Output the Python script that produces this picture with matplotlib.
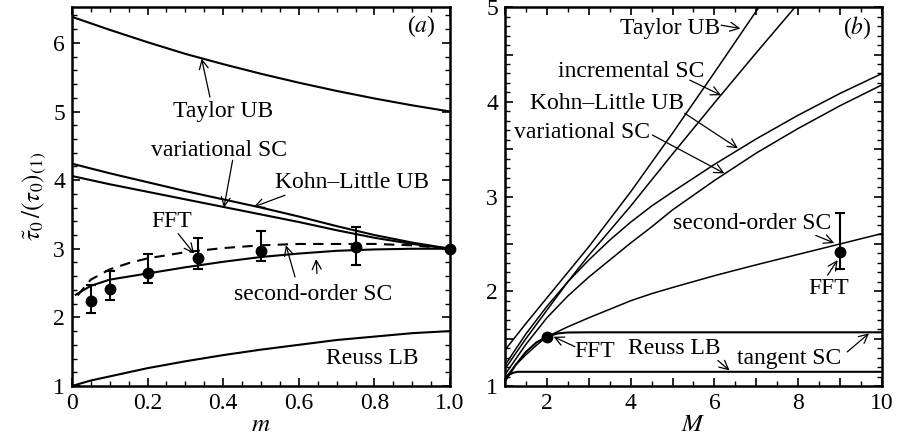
import numpy as np
import matplotlib.pyplot as plt
from matplotlib.ticker import MultipleLocator, FuncFormatter

plt.rcParams['font.family'] = ['Liberation Serif', 'DejaVu Serif']
plt.rcParams['mathtext.fontset'] = 'stix'
plt.rcParams['font.size'] = 16

# ---- panel (a): curves versus m ----
m_taylor = [0, 0.1, 0.2, 0.3, 0.4, 0.5, 0.6, 0.7, 0.8, 0.9, 1.0]
taylor_a = [6.38, 6.19, 6.01, 5.84, 5.69, 5.55, 5.42, 5.30, 5.19, 5.09, 5.0]

m_bounds = [0, 0.1, 0.2, 0.3, 0.4, 0.5, 0.6, 0.7, 0.8, 0.9, 1.0]
kohn_a = [4.24, 4.10, 3.97, 3.84, 3.72, 3.60, 3.47, 3.33, 3.20, 3.09, 3.0]
varsc_a = [4.06, 3.94, 3.83, 3.72, 3.61, 3.50, 3.39, 3.27, 3.16, 3.07, 3.0]

m_so = [0.01, 0.05, 0.1, 0.2, 0.3, 0.4, 0.5, 0.6, 0.7, 0.8, 0.9, 1.0]
so_solid = [2.33, 2.46, 2.55, 2.64, 2.73, 2.81, 2.88, 2.93, 2.97, 2.99, 3.0, 3.0]
m_dash = [0.015, 0.05, 0.1, 0.15, 0.2, 0.3, 0.4, 0.5, 0.6, 0.7, 0.8, 0.9, 1.0]
so_dash = [2.32, 2.55, 2.70, 2.79, 2.86, 2.95, 3.01, 3.05, 3.07, 3.07, 3.07, 3.05, 3.0]

m_reuss = [0, 0.05, 0.1, 0.2, 0.3, 0.4, 0.5, 0.6, 0.7, 0.8, 0.9, 1.0]
reuss_a = [1.0, 1.08, 1.14, 1.26, 1.36, 1.45, 1.53, 1.60, 1.67, 1.72, 1.77, 1.80]

m_fft = [0.05, 0.1, 0.2, 0.333, 0.5, 0.75, 1.0]
fft_a = [2.24, 2.41, 2.64, 2.86, 2.97, 3.03, 3.0]
fft_a_lo = [2.06, 2.25, 2.50, 2.71, 2.82, 2.77, 3.0]
fft_a_hi = [2.47, 2.68, 2.93, 3.15, 3.26, 3.32, 3.0]

# ---- panel (b): curves versus M ----
M_taylor = [1, 1.5, 2, 2.5, 3, 4, 5, 6, 7, 7.1]
taylor_b = [1.38, 1.66, 1.93, 2.20, 2.47, 3.05, 3.67, 4.31, 4.96, 5.02]
M_incr = [1, 1.5, 2, 2.5, 3, 4, 5, 6, 7, 8]
incr_b = [1.18, 1.50, 1.80, 2.10, 2.38, 2.90, 3.45, 3.99, 4.52, 5.04]
M_b = [1, 1.5, 2, 2.5, 3, 3.5, 4, 4.5, 5, 6, 7, 8, 9, 10]
kohn_b = [1.22, 1.55, 1.84, 2.10, 2.33, 2.54, 2.73, 2.90, 3.05, 3.34, 3.61, 3.86, 4.09, 4.30]
varsc_b = [1.12, 1.44, 1.72, 1.95, 2.15, 2.33, 2.51, 2.68, 2.86, 3.17, 3.46, 3.72, 3.96, 4.18]
M_so = [1, 1.25, 1.5, 1.75, 2, 2.5, 3, 3.5, 4, 4.5, 5, 6, 7, 8, 9, 10]
so_b = [1.08, 1.22, 1.33, 1.43, 1.52, 1.625, 1.72, 1.81, 1.90, 1.975, 2.04, 2.165,
        2.28, 2.39, 2.50, 2.61]
M_tan = [1, 1.25, 1.5, 1.75, 2, 2.25, 2.5, 3, 10]
tangent_b = [1.05, 1.22, 1.36, 1.46, 1.52, 1.555, 1.565, 1.567, 1.567]
M_reuss = [1, 1.1, 1.2, 1.3, 10]
reuss_b = [1.08, 1.12, 1.14, 1.15, 1.15]
M_fft = [2, 9]
fft_b = [1.52, 2.41]
fft_b_lo = [1.52, 2.24]
fft_b_hi = [1.52, 2.83]

fig = plt.figure(figsize=(8.99, 4.42), dpi=100)
ax1 = fig.add_axes([0.080, 0.1267, 0.4206, 0.857])
ax2 = fig.add_axes([0.5617, 0.1267, 0.4194, 0.857])

arrow = dict(arrowstyle='->', lw=0.9, color='k', shrinkA=0, shrinkB=0)

# panel (a)
ax1.plot(m_taylor, taylor_a, 'k-', lw=1.5)
ax1.plot(m_bounds, kohn_a, 'k-', lw=1.5)
ax1.plot(m_bounds, varsc_a, 'k-', lw=1.5)
ax1.plot(m_so, so_solid, 'k-', lw=1.5)
ax1.plot(m_dash, so_dash, 'k', lw=1.5, linestyle=(0, (5, 3.5)))
ax1.plot(m_reuss, reuss_a, 'k-', lw=1.5)
err_a = [np.array(fft_a) - np.array(fft_a_lo), np.array(fft_a_hi) - np.array(fft_a)]
ax1.errorbar(m_fft, fft_a, yerr=err_a, fmt='o', color='k', ms=7.5,
             capsize=3.5, elinewidth=1.5, capthick=1.5, clip_on=False, zorder=5)

ax1.text(0.925, 6.25, '($a$)', ha='center', va='center', fontsize=17)
ax1.text(0.40, 5.0, 'Taylor UB', ha='center', va='center', fontsize=17)
ax1.annotate('', xy=(0.343, 5.77), xytext=(0.365, 5.21), arrowprops=arrow)
ax1.text(0.39, 4.43, 'variational SC', ha='center', va='center', fontsize=17)
ax1.annotate('', xy=(0.402, 3.60), xytext=(0.425, 4.29), arrowprops=arrow)
ax1.text(0.742, 3.96, 'Kohn\u2013Little UB', ha='center', va='center', fontsize=17)
ax1.annotate('', xy=(0.481, 3.61), xytext=(0.5635, 3.78), arrowprops=arrow)
ax1.text(0.265, 3.40, 'FFT', ha='center', va='center', fontsize=17)
ax1.annotate('', xy=(0.323, 2.93), xytext=(0.281, 3.22), arrowprops=arrow)
ax1.text(0.638, 2.34, 'second-order SC', ha='center', va='center', fontsize=17)
ax1.annotate('', xy=(0.566, 3.05), xytext=(0.59, 2.59), arrowprops=arrow)
ax1.annotate('', xy=(0.646, 2.85), xytext=(0.648, 2.64), arrowprops=arrow)
ax1.text(0.795, 1.40, 'Reuss LB', ha='center', va='center', fontsize=17)

ax1.set_xlim(0, 1)
ax1.set_ylim(1, 6.52)
ax1.xaxis.set_major_locator(MultipleLocator(0.2))
ax1.xaxis.set_minor_locator(MultipleLocator(0.05))
ax1.yaxis.set_major_locator(MultipleLocator(1))
ax1.yaxis.set_minor_locator(MultipleLocator(0.2))
ax1.xaxis.set_major_formatter(FuncFormatter(lambda v, p: '0' if abs(v) < 1e-9 else '%.1f' % v))
ax1.set_xlabel('$m$', fontsize=18, labelpad=0)
ax1.set_ylabel(r'$\tilde{\tau}_0\,/(\tau_0)_{(1)}$', fontsize=18, labelpad=4)

# panel (b)
ax2.plot(M_taylor, taylor_b, 'k-', lw=1.1)
ax2.plot(M_incr, incr_b, 'k-', lw=1.1)
ax2.plot(M_b, kohn_b, 'k-', lw=1.1)
ax2.plot(M_b, varsc_b, 'k-', lw=1.1)
ax2.plot(M_so, so_b, 'k-', lw=1.1)
ax2.plot(M_tan, tangent_b, 'k-', lw=1.5)
ax2.plot(M_reuss, reuss_b, 'k-', lw=1.5)
err_b = [np.array(fft_b) - np.array(fft_b_lo), np.array(fft_b_hi) - np.array(fft_b)]
ax2.errorbar(M_fft, fft_b, yerr=err_b, fmt='o', color='k', ms=7.5,
             capsize=3.5, elinewidth=1.5, capthick=1.5, zorder=5)

ax2.text(4.93, 4.775, 'Taylor UB', ha='center', va='center', fontsize=17)
ax2.annotate('', xy=(6.62, 4.775), xytext=(6.16, 4.81), arrowprops=arrow)
ax2.text(4.02, 4.32, 'incremental SC', ha='center', va='center', fontsize=17)
ax2.annotate('', xy=(6.16, 4.07), xytext=(5.41, 4.23), arrowprops=arrow)
ax2.text(3.43, 3.98, 'Kohn\u2013Little UB', ha='center', va='center', fontsize=17)
ax2.annotate('', xy=(6.56, 3.51), xytext=(5.29, 3.88), arrowprops=arrow)
ax2.text(2.83, 3.68, 'variational SC', ha='center', va='center', fontsize=17)
ax2.annotate('', xy=(6.24, 3.245), xytext=(4.52, 3.65), arrowprops=arrow)
ax2.text(9.41, 4.79, '($b$)', ha='center', va='center', fontsize=17)
ax2.text(6.91, 2.72, 'second-order SC', ha='center', va='center', fontsize=17)
ax2.annotate('', xy=(8.86, 2.51), xytext=(8.42, 2.59), arrowprops=arrow)
ax2.text(8.74, 2.03, 'FFT', ha='center', va='center', fontsize=17)
ax2.annotate('', xy=(8.94, 2.33), xytext=(8.70, 2.17), arrowprops=arrow)
ax2.text(3.15, 1.36, 'FFT', ha='center', va='center', fontsize=17)
ax2.annotate('', xy=(2.16, 1.52), xytext=(2.67, 1.415), arrowprops=arrow)
ax2.text(5.05, 1.40, 'Reuss LB', ha='center', va='center', fontsize=17)
ax2.annotate('', xy=(6.36, 1.165), xytext=(6.08, 1.27), arrowprops=arrow)
ax2.text(7.79, 1.29, 'tangent SC', ha='center', va='center', fontsize=17)
ax2.annotate('', xy=(9.69, 1.556), xytext=(9.17, 1.36), arrowprops=arrow)

ax2.set_xlim(1, 10)
ax2.set_ylim(1, 5)
ax2.xaxis.set_major_locator(MultipleLocator(1))
ax2.xaxis.set_minor_locator(MultipleLocator(0.5))
ax2.yaxis.set_major_locator(MultipleLocator(0.5))
ax2.yaxis.set_minor_locator(MultipleLocator(0.1))
ax2.xaxis.set_major_formatter(FuncFormatter(lambda v, p: '%d' % round(v) if round(v) % 2 == 0 else ''))
ax2.yaxis.set_major_formatter(FuncFormatter(lambda v, p: '%d' % round(v) if abs(v - round(v)) < 1e-9 else ''))
ax2.set_xlabel('$M$', fontsize=18, labelpad=0)

for ax in (ax1, ax2):
    for s in ax.spines.values():
        s.set_linewidth(1.8)
    ax.tick_params(which='both', direction='in', top=True, right=True, labelsize=17)
    ax.tick_params(which='major', length=6, width=1.2, pad=5)
    ax.tick_params(which='minor', length=3.5, width=1.0)

fig.savefig('out.png', dpi=100)
